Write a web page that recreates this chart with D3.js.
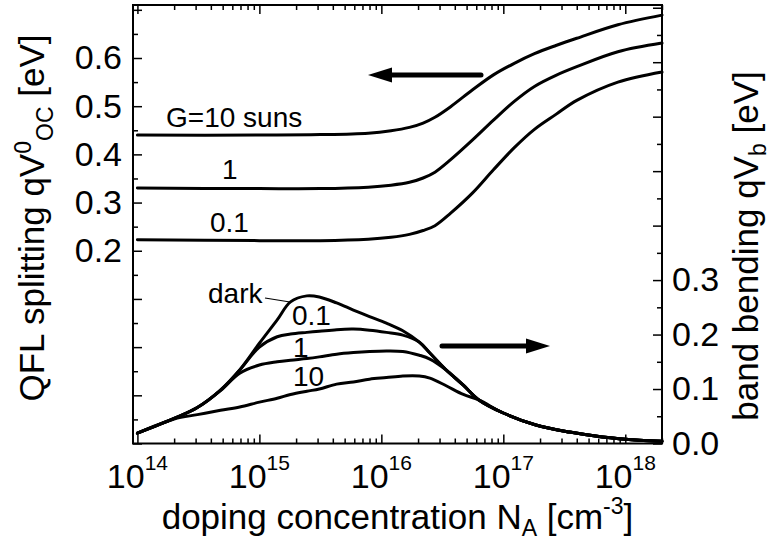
<!DOCTYPE html>
<html>
<head>
<meta charset="utf-8">
<script src="https://cdn.jsdelivr.net/npm/d3@7"></script>
<style>
  body { margin: 0; background: #fff; }
  text { font-family: Arial, "Liberation Sans", sans-serif; fill: #000; }
  .line { fill: none; stroke: #000; stroke-width: 3; stroke-linejoin: round; stroke-linecap: round; }
</style>
</head>
<body>
<div id="plot"></div>
<script>
// QFL splitting (left axis) vs doping
var nTop = [1e14, 1e15, 3.16e15, 7.8e15, 1.2e16, 1.7e16, 2.2e16, 2.75e16, 3.7e16, 5.6e16, 8.3e16, 1.23e17, 1.8e17, 2.7e17, 4e17, 8.7e17, 2e18];
var qflG10 = [0.440, 0.440, 0.441, 0.444, 0.449, 0.456, 0.465, 0.477, 0.499, 0.534, 0.565, 0.589, 0.609, 0.626, 0.641, 0.669, 0.689];
var qflG1 = [0.330, 0.329, 0.329, 0.332, 0.336, 0.342, 0.351, 0.363, 0.389, 0.430, 0.471, 0.510, 0.541, 0.564, 0.582, 0.613, 0.631];
var qflG01 = [0.223, 0.221, 0.221, 0.224, 0.228, 0.234, 0.242, 0.252, 0.278, 0.320, 0.368, 0.414, 0.452, 0.483, 0.512, 0.550, 0.571];

// band bending (right axis) vs doping
var nBot = [1e14, 2e14, 3.1e14, 4.8e14, 6.9e14, 1e15, 1.4e15, 1.8e15, 2.45e15, 3.1e15, 4.3e15, 5.9e15, 8e15, 1.1e16, 1.5e16, 2.05e16, 2.5e16, 3.4e16, 4.7e16, 6.3e16, 1e17, 1.85e17, 3.5e17, 6.5e17, 1.3e18, 2e18];
var bbDark = [0.019, 0.046, 0.066, 0.098, 0.135, 0.184, 0.227, 0.260, 0.271, 0.269, 0.258, 0.245, 0.233, 0.221, 0.207, 0.186, 0.166, 0.135, 0.107, 0.080, 0.056, 0.034, 0.021, 0.012, 0.006, 0.004];
var bb01 = [0.019, 0.046, 0.066, 0.098, 0.135, 0.177, 0.196, 0.201, 0.204, 0.206, 0.209, 0.210, 0.208, 0.204, 0.199, 0.186, 0.166, 0.135, 0.107, 0.080, 0.056, 0.034, 0.021, 0.012, 0.006, 0.004];
var bb1 = [0.019, 0.046, 0.066, 0.097, 0.129, 0.144, 0.150, 0.153, 0.156, 0.159, 0.164, 0.167, 0.169, 0.170, 0.169, 0.162, 0.155, 0.135, 0.107, 0.080, 0.056, 0.034, 0.021, 0.012, 0.006, 0.004];
var bb10 = [0.019, 0.045, 0.053, 0.061, 0.067, 0.076, 0.083, 0.090, 0.096, 0.100, 0.109, 0.113, 0.118, 0.121, 0.124, 0.124, 0.120, 0.106, 0.090, 0.080, 0.056, 0.034, 0.021, 0.012, 0.006, 0.004];

var xDomain = [9.2e13, 2e18];
var leftDomain = [-0.2, 0.71];
var rightDomain = [0, 0.805];
var leftLabels = [0.2, 0.3, 0.4, 0.5, 0.6];
var rightLabels = [0.0, 0.1, 0.2, 0.3];

var svgWidth = 770;
var svgHeight = 540;
var margin = { top: 5, right: 108, bottom: 96.5, left: 133 };
var width = svgWidth - margin.left - margin.right;
var height = svgHeight - margin.top - margin.bottom;

var svg = d3.select("#plot")
  .append("svg")
  .attr("width", svgWidth)
  .attr("height", svgHeight);

var chartGroup = svg.append("g")
  .attr("transform", `translate(${margin.left}, ${margin.top})`);

var xScale = d3.scaleLog().domain(xDomain).range([0, width]);
var yLeft = d3.scaleLinear().domain(leftDomain).range([height, 0]);
var yRight = d3.scaleLinear().domain(rightDomain).range([height, 0]);

var xAll = xScale.ticks();
var xMajor = xAll.filter(d => Math.abs(Math.log10(d) - Math.round(Math.log10(d))) < 1e-9);
var xMinor = xAll.filter(d => xMajor.indexOf(d) < 0);

function steps(lo, hi, step) {
  var out = [];
  for (var v = lo; v <= hi + 1e-9; v += step) out.push(Math.round(v * 100) / 100);
  return out;
}
var leftTicks = steps(-0.2, 0.7, 0.05);
var rightTicks = steps(0, 0.8, 0.05);
function isMajor(v) { return Math.abs(v * 10 - Math.round(v * 10)) < 1e-6; }

function styleAxis(g) {
  g.select(".domain").remove();
  g.selectAll(".tick line").attr("stroke", "#000").attr("stroke-width", 1.5);
}

// bottom and top ticks (inward)
chartGroup.append("g").attr("transform", `translate(0, ${height})`)
  .call(d3.axisBottom(xScale).tickValues(xMinor).tickSize(-5).tickFormat("")).call(styleAxis);
chartGroup.append("g").attr("transform", `translate(0, ${height})`)
  .call(d3.axisBottom(xScale).tickValues(xMajor).tickSize(-9).tickFormat("")).call(styleAxis);
chartGroup.append("g")
  .call(d3.axisTop(xScale).tickValues(xMinor).tickSize(-5).tickFormat("")).call(styleAxis);
chartGroup.append("g")
  .call(d3.axisTop(xScale).tickValues(xMajor).tickSize(-9).tickFormat("")).call(styleAxis);

// left axis
chartGroup.append("g")
  .call(d3.axisLeft(yLeft).tickValues(leftTicks.filter(v => !isMajor(v))).tickSize(-5).tickFormat("")).call(styleAxis);
chartGroup.append("g")
  .call(d3.axisLeft(yLeft).tickValues(leftTicks.filter(isMajor)).tickSize(-9).tickPadding(11)
    .tickFormat(d => leftLabels.indexOf(d) >= 0 ? d3.format(".1f")(d) : ""))
  .call(styleAxis)
  .selectAll("text").attr("font-size", "34px").attr("font-family", "Arial, 'Liberation Sans', sans-serif");

// right axis
chartGroup.append("g").attr("transform", `translate(${width}, 0)`)
  .call(d3.axisRight(yRight).tickValues(rightTicks.filter(v => !isMajor(v))).tickSize(-5).tickFormat("")).call(styleAxis);
chartGroup.append("g").attr("transform", `translate(${width}, 0)`)
  .call(d3.axisRight(yRight).tickValues(rightTicks.filter(isMajor)).tickSize(-9).tickPadding(10)
    .tickFormat(d => rightLabels.indexOf(d) >= 0 ? d3.format(".1f")(d) : ""))
  .call(styleAxis)
  .selectAll("text").attr("font-size", "34px").attr("font-family", "Arial, 'Liberation Sans', sans-serif");

// frame
chartGroup.append("rect")
  .attr("x", 0).attr("y", 0)
  .attr("width", width).attr("height", height)
  .attr("fill", "none").attr("stroke", "#000").attr("stroke-width", 2);

// x tick labels 10^n
var xLabels = chartGroup.selectAll(".xlab")
  .data(xMajor)
  .enter()
  .append("text")
  .attr("class", "xlab")
  .attr("x", d => xScale(d))
  .attr("y", height + 44.5)
  .attr("text-anchor", "middle")
  .attr("font-size", "34px");
xLabels.append("tspan").text("10");
xLabels.append("tspan").attr("dy", -18).attr("font-size", "21px").text(d => Math.round(Math.log10(d)));

// lines
function makeLine(xs, yScale) {
  return d3.line()
    .x((d, i) => xScale(xs[i]))
    .y(d => yScale(d))
    .curve(d3.curveCatmullRom.alpha(0.5));
}
function addLine(values, xs, yScale) {
  return chartGroup.append("path")
    .datum(values)
    .attr("class", "line")
    .attr("d", makeLine(xs, yScale));
}

addLine(qflG10, nTop, yLeft);
addLine(qflG1, nTop, yLeft);
addLine(qflG01, nTop, yLeft);

addLine(bb10, nBot, yRight);
addLine(bb1, nBot, yRight);
addLine(bb01, nBot, yRight);
addLine(bbDark, nBot, yRight);

// annotations
function note(x, y, txt) {
  return svg.append("text")
    .attr("x", x).attr("y", y)
    .attr("font-size", "28px")
    .text(txt);
}
note(166, 127, "G=10 suns");
note(222, 179, "1");
note(210, 232, "0.1");
note(208, 303, "dark");
note(292, 325, "0.1");
note(293, 357, "1");
note(293, 386, "10");

svg.append("line")
  .attr("x1", 265).attr("y1", 298)
  .attr("x2", 290).attr("y2", 302)
  .attr("stroke", "#000").attr("stroke-width", 1.2);

// arrows
function arrow(xTail, xTip, y) {
  var dir = xTip > xTail ? 1 : -1;
  var headLen = 24;
  svg.append("line")
    .attr("x1", xTail).attr("y1", y)
    .attr("x2", xTip - dir * headLen + dir * 2).attr("y2", y)
    .attr("stroke", "#000").attr("stroke-width", 5).attr("stroke-linecap", "round");
  svg.append("path")
    .attr("d", `M${xTip},${y} L${xTip - dir * headLen},${y - 7.5} L${xTip - dir * headLen},${y + 7.5} Z`)
    .attr("fill", "#000");
}
arrow(481, 368, 75);
arrow(442, 550, 346);

// axis titles
var xTitle = svg.append("text")
  .attr("x", margin.left + width / 2)
  .attr("y", 529)
  .attr("text-anchor", "middle")
  .attr("font-size", "35px");
xTitle.append("tspan").text("doping concentration N");
xTitle.append("tspan").attr("dy", 7).attr("font-size", "23px").text("A");
xTitle.append("tspan").attr("dy", -7).text(" [cm");
xTitle.append("tspan").attr("dy", -15).attr("font-size", "23px").text("-3");
xTitle.append("tspan").attr("dy", 15).text("]");

var yTitle = svg.append("text")
  .attr("transform", "translate(44, 218) rotate(-90)")
  .attr("text-anchor", "middle")
  .attr("font-size", "35px");
yTitle.append("tspan").text("QFL splitting qV");
yTitle.append("tspan").attr("dy", -13).attr("font-size", "23px").text("0");
yTitle.append("tspan").attr("dy", 22).attr("font-size", "23px").text("OC");
yTitle.append("tspan").attr("dy", -9).text(" [eV]");

var y2Title = svg.append("text")
  .attr("transform", "translate(758, 246) rotate(-90)")
  .attr("text-anchor", "middle")
  .attr("font-size", "35px");
y2Title.append("tspan").text("band bending qV");
y2Title.append("tspan").attr("dy", 8).attr("font-size", "23px").text("b");
y2Title.append("tspan").attr("dy", -8).text(" [eV]");
</script>
</body>
</html>
